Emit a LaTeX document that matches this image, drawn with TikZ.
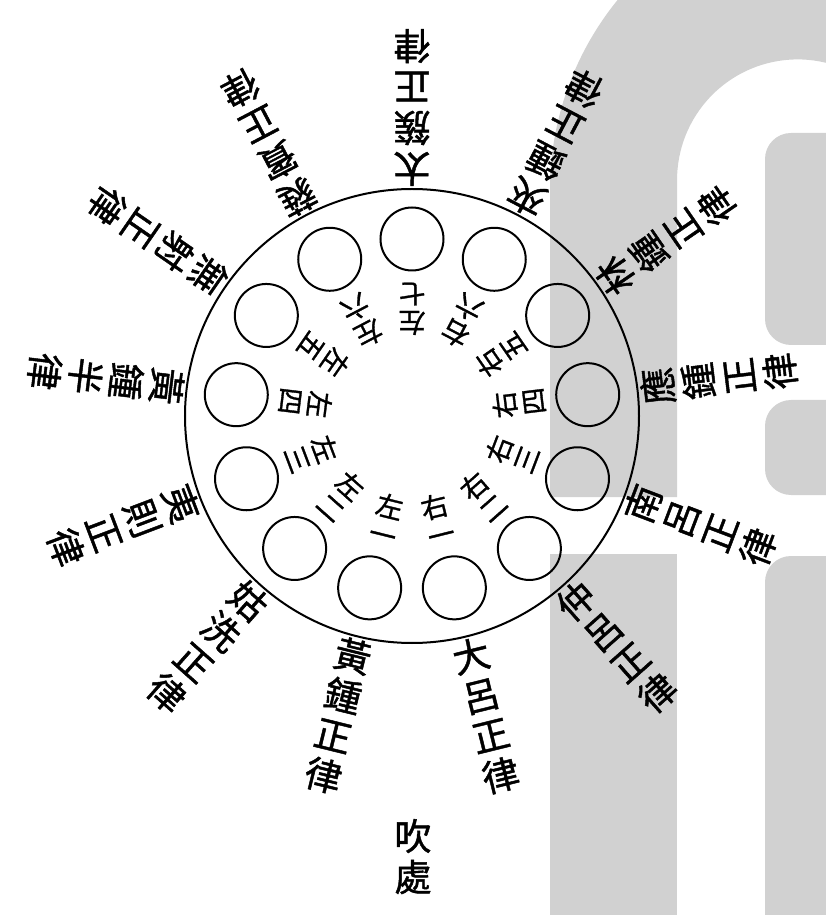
\documentclass[tikz,border=0pt]{standalone}
\usepackage{fontspec}
\newfontfamily\cjk[FakeBold=1.2]{Noto Sans CJK TC}
\definecolor{wmgray}{gray}{0.82}

\begin{document}
\begin{tikzpicture}[x=1pt,y=1pt,line width=2pt,
lulab/.style={font=\cjk\fontsize{37}{41}\selectfont,align=center,inner sep=0pt,anchor=north},
konglab/.style={font=\cjk\fontsize{27}{29}\selectfont,align=center,inner sep=0pt,anchor=north},
guan/.style={draw,circle,minimum size=63pt,inner sep=0pt}]
\useasboundingbox (-412,-499) rectangle (414,416);
\begin{scope}
\clip (-412,-499) rectangle (414,416);
\fill[wmgray] (138,-81) -- (138,226) arc[start angle=180,end angle=140.8,radius=301] -- (414,416) -- (414,353.2) arc[start angle=76.4,end angle=180,radius=120.6] -- (265,-81) -- cycle;
\fill[wmgray] (138,-138) rectangle (265,-510);
\fill[wmgray,rounded corners=26pt] (353,71) rectangle (470,283);
\fill[wmgray,rounded corners=26pt] (353,16) rectangle (470,-79);
\fill[wmgray,rounded corners=26pt] (353,-140) rectangle (470,-560);
\end{scope}
\node[draw,circle,minimum size=454pt,inner sep=0pt] (pan) at (0,0) {};
\foreach \lu/\kong [count=\k from 0] in {太\\簇\\正\\律/左\\七,夾\\鍾\\正\\律/右\\六,林\\鍾\\正\\律/右\\五,應\\鍾\\正\\律/右\\四,南\\呂\\正\\律/右\\三,仲\\呂\\正\\律/右\\二,大\\呂\\正\\律/右\\一,黃\\鍾\\正\\律/左\\一,姑\\洗\\正\\律/左\\二,夷\\則\\正\\律/左\\三,黃\\鍾\\半\\律/左\\四,無\\射\\正\\律/左\\五,蕤\\賓\\正\\律/左\\六}{
\pgfmathsetmacro\a{90-\k*360/13}
\node[guan] (guan\k) at (\a:177) {};
\node[lulab,rotate=\a+90] (lu\k) at (\a:229) {\lu};
\node[konglab,rotate=\a+90] (kong\k) at (\a:80) {\kong};
}
\node[lulab] (chui) at (1,-402) {吹\\處};
\end{tikzpicture}
\end{document}
